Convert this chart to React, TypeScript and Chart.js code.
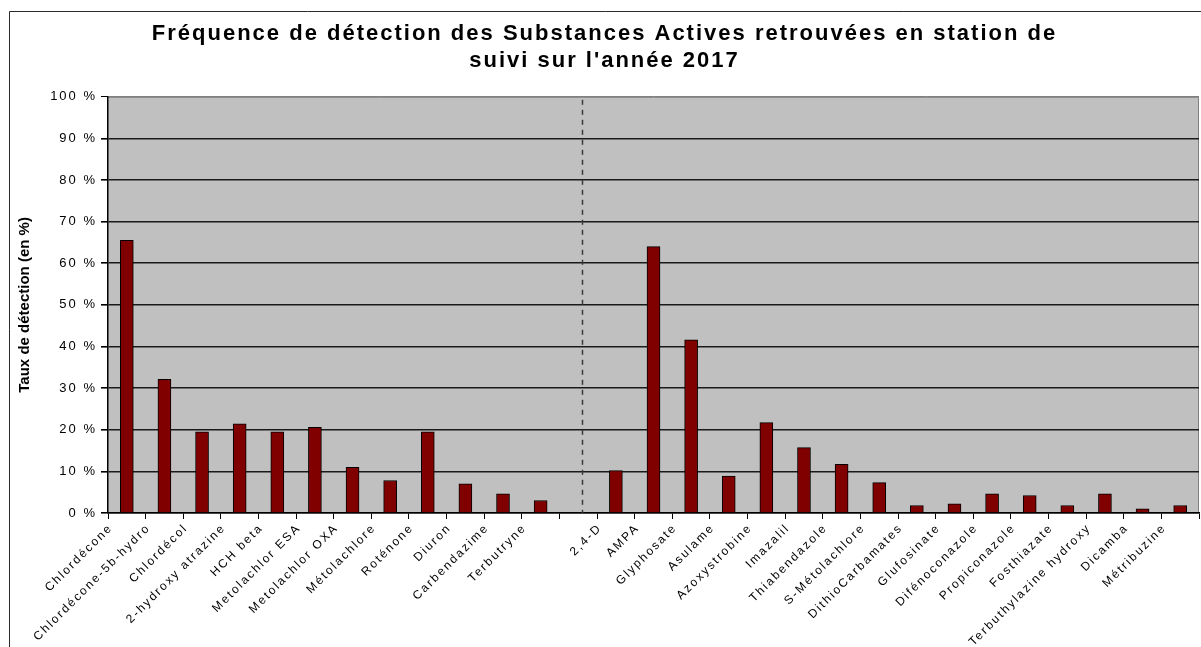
import React, { useEffect, useRef } from 'react';
import { Chart, registerables } from 'chart.js';

Chart.register(...registerables);

// Substances detected, first group (left of the separator)
const leftSubstances = [
  'Chlordécone',
  'Chlordécone-5b-hydro',
  'Chlordécol',
  '2-hydroxy atrazine',
  'HCH beta',
  'Metolachlor ESA',
  'Metolachlor OXA',
  'Métolachlore',
  'Roténone',
  'Diuron',
  'Carbendazime',
  'Terbutryne',
];
const leftRates = [65.5, 32.1, 19.5, 21.4, 19.5, 20.6, 11.0, 7.8, 19.5, 7.0, 4.6, 3.0];

// Substances detected, second group (right of the separator)
const rightSubstances = [
  '2,4-D',
  'AMPA',
  'Glyphosate',
  'Asulame',
  'Azoxystrobine',
  'Imazalil',
  'Thiabendazole',
  'S-Métolachlore',
  'DithioCarbamates',
  'Glufosinate',
  'Difénoconazole',
  'Propiconazole',
  'Fosthiazate',
  'Terbuthylazine hydroxy',
  'Dicamba',
  'Métribuzine',
];
const rightRates = [10.2, 64.0, 41.6, 8.9, 21.7, 15.7, 11.7, 7.3, 1.8, 2.2, 4.6, 4.2, 1.8, 4.6, 1.0, 1.8];

const titleLines = [
  'Fréquence de détection des Substances Actives retrouvées en station de',
  "suivi sur l'année 2017",
];
const yAxisTitle = 'Taux de détection (en %)';
const yMin = 0;
const yMax = 100;
const yStep = 10;

// One empty slot separates the two groups
const labels = [...leftSubstances, '', ...rightSubstances];
const rates: (number | null)[] = [...leftRates, null, ...rightRates];
const separatorIndex = leftSubstances.length;

const FONT = "'Liberation Sans', Arial, sans-serif";
const TEXT_SPACING = '2px';

const frameAndBackground = {
  id: 'frameAndBackground',
  beforeDraw(chart: Chart) {
    const { ctx, chartArea, width, height } = chart;
    ctx.save();
    ctx.fillStyle = '#ffffff';
    ctx.fillRect(0, 0, width, height);
    // outer frame (left and top edges)
    ctx.strokeStyle = '#2a2a2a';
    ctx.lineWidth = 1;
    ctx.beginPath();
    ctx.moveTo(9.5, height);
    ctx.lineTo(9.5, 11.5);
    ctx.lineTo(width, 11.5);
    ctx.stroke();
    // plot area
    ctx.fillStyle = '#c0c0c0';
    ctx.fillRect(chartArea.left, chartArea.top, chartArea.right - chartArea.left, chartArea.bottom - chartArea.top);
    ctx.strokeStyle = '#808080';
    ctx.beginPath();
    ctx.moveTo(chartArea.left, chartArea.top + 0.5);
    ctx.lineTo(chartArea.right - 0.5, chartArea.top + 0.5);
    ctx.lineTo(chartArea.right - 0.5, chartArea.bottom);
    ctx.stroke();
    ctx.restore();
    // wide text tracking for the title and tick labels
    (ctx as any).letterSpacing = TEXT_SPACING;
  },
  afterDraw(chart: Chart) {
    (chart.ctx as any).letterSpacing = '0px';
  },
};

const separatorLine = {
  id: 'separatorLine',
  beforeDatasetsDraw(chart: Chart) {
    const { ctx, chartArea, scales } = chart;
    const x = Math.round(scales.x.getPixelForValue(separatorIndex + 0.1)) + 0.5;
    ctx.save();
    ctx.strokeStyle = '#3a3a3a';
    ctx.lineWidth = 1.5;
    ctx.setLineDash([5, 5]);
    ctx.beginPath();
    ctx.moveTo(x, chartArea.top + 3);
    ctx.lineTo(x, chartArea.bottom);
    ctx.stroke();
    ctx.restore();
  },
};

// Vertical axis title, drawn with normal tracking
const yTitle = {
  id: 'yTitle',
  afterDraw(chart: Chart) {
    const { ctx, chartArea } = chart;
    ctx.save();
    (ctx as any).letterSpacing = '0px';
    ctx.translate(25, (chartArea.top + chartArea.bottom) / 2);
    ctx.rotate(-Math.PI / 2);
    ctx.fillStyle = '#000000';
    ctx.font = `bold 15px ${FONT}`;
    ctx.textAlign = 'center';
    ctx.textBaseline = 'middle';
    ctx.fillText(yAxisTitle, 0, 0);
    ctx.restore();
  },
};

export default function App() {
  const canvasRef = useRef<HTMLCanvasElement | null>(null);

  useEffect(() => {
    const canvas = canvasRef.current;
    if (!canvas) return;
    const chart = new Chart(canvas, {
      type: 'bar',
      data: {
        labels,
        datasets: [
          {
            data: rates,
            backgroundColor: '#800000',
            borderColor: '#000000',
            borderWidth: 1,
            borderSkipped: 'bottom',
            barThickness: 13,
          },
        ],
      },
      options: {
        animation: false,
        responsive: false,
        maintainAspectRatio: false,
        devicePixelRatio: 1,
        layout: { padding: { left: 10, right: 2, top: 0, bottom: 0 } },
        plugins: {
          legend: { display: false },
          tooltip: { enabled: false },
          title: {
            display: true,
            text: titleLines,
            color: '#000000',
            font: { family: FONT, size: 22, weight: 'bold', lineHeight: 1.2 },
            padding: { top: 21, bottom: 23 },
          },
        },
        scales: {
          x: {
            type: 'category',
            offset: true,
            afterFit(scale: any) {
              scale.height = 134;
            },
            grid: {
              offset: true,
              drawOnChartArea: false,
              drawTicks: true,
              tickLength: 6,
              color: '#000000',
            },
            border: { color: '#000000', width: 1.5 },
            ticks: {
              autoSkip: false,
              minRotation: 45,
              maxRotation: 45,
              padding: 2,
              labelOffset: -16,
              color: '#000000',
              font: { family: FONT, size: 12 },
            },
          },
          y: {
            min: yMin,
            max: yMax,
            afterFit(scale: any) {
              scale.width = 98;
            },
            grid: {
              color: (ctx: any) => (ctx.tick && ctx.tick.value === yMax ? '#808080' : '#1a1a1a'),
              lineWidth: (ctx: any) => (ctx.tick && ctx.tick.value === yMax ? 1 : 1.6),
              drawTicks: true,
              tickLength: 7,
              tickColor: '#000000',
            },
            border: { color: '#000000', width: 1.5 },
            ticks: {
              stepSize: yStep,
              padding: 4,
              color: '#000000',
              font: { family: FONT, size: 13 },
              callback: (v: any) => `${v} %`,
            },
          },
        },
      },
      plugins: [frameAndBackground, separatorLine, yTitle],
    });
    return () => chart.destroy();
  }, []);

  return (
    <div style={{ position: 'fixed', left: 0, top: 0, width: 1201, height: 647, background: '#ffffff' }}>
      <canvas ref={canvasRef} width={1201} height={647} style={{ display: 'block', width: 1201, height: 647 }} />
    </div>
  );
}
